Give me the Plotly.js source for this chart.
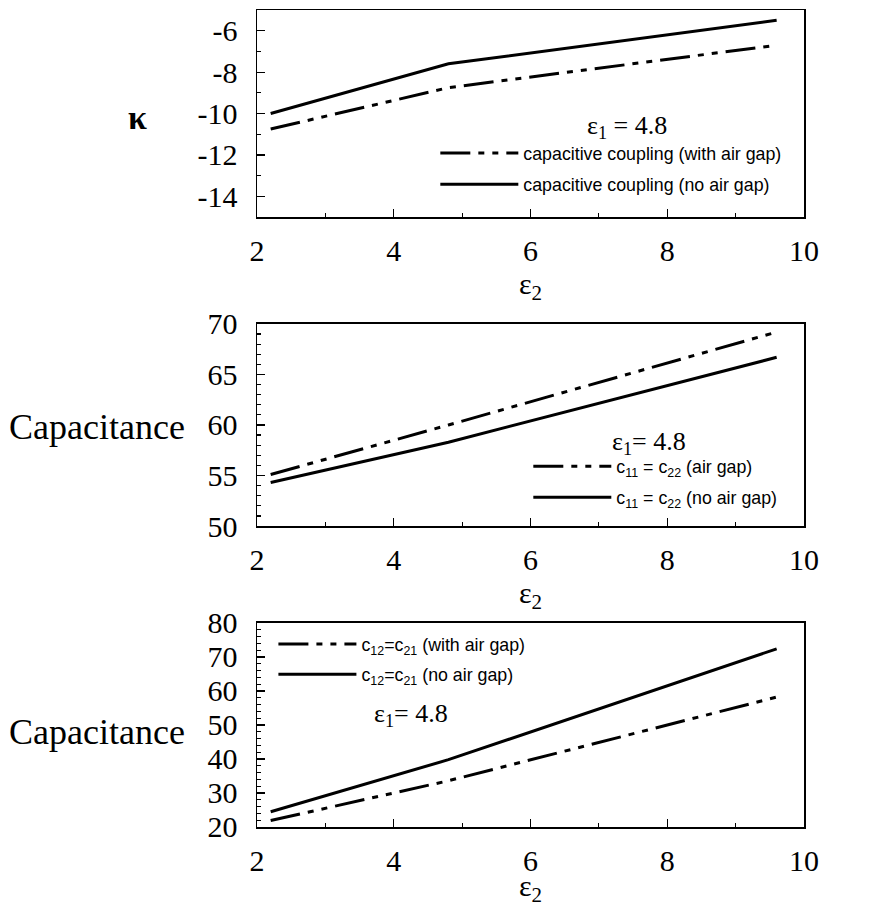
<!DOCTYPE html>
<html>
<head>
<meta charset="utf-8">
<script src="https://cdn.plot.ly/plotly-3.0.1.min.js"></script>
<style>html,body{margin:0;padding:0;background:#fff}#chart{width:896px;height:907px}</style>
</head>
<body>
<div id="chart"></div>
<script>
// ---- data ----
var eps2 = [2.2, 4.8, 9.6];

var kappaAirGap = [-10.75, -8.75, -6.7];
var kappaNoGap  = [-10.0, -7.6, -5.5];

var c11AirGap = [55.1, 60.0, 69.2];
var c11NoGap  = [54.3, 58.3, 66.7];

var c12AirGap = [21.9, 33.6, 58.2];
var c12NoGap  = [24.5, 39.8, 72.4];

var xTickVals = [2, 4, 6, 8, 10];
var yTickVals1 = [-14, -12, -10, -8, -6];
var yTickText1 = ['-14', '-12', '-10', '-8', '-6'];
var yTickVals2 = [50, 55, 60, 65, 70];
var yTickVals3 = [20, 30, 40, 50, 60, 70, 80];

var legendNames1 = ['capacitive coupling (with air gap)', 'capacitive coupling (no air gap)'];
var legendNames2 = ['c<sub>11</sub> = c<sub>22</sub> (air gap)', 'c<sub>11</sub> = c<sub>22</sub> (no air gap)'];
var legendNames3 = ['c<sub>12</sub>=c<sub>21</sub> (with air gap)', 'c<sub>12</sub>=c<sub>21</sub> (no air gap)'];

// ---- styling ----
var serif = 'Liberation Serif';
var sans = 'Liberation Sans';
var dashPat = '30px,8px,6px,8px,6px,8px';
var lw = 3;

function tr(x, y, name, dash, xa, ya, leg, grp) {
  return {
    x: x, y: y, name: name, mode: 'lines', type: 'scatter',
    xaxis: xa, yaxis: ya, legend: leg, legendgroup: grp,
    line: {color: '#000', width: lw, dash: dash},
    hoverinfo: 'skip'
  };
}

var data = [
  tr(eps2, kappaAirGap, legendNames1[0], dashPat, 'x', 'y', 'legend', 'a1'),
  tr(eps2, kappaNoGap, legendNames1[1], 'solid', 'x', 'y', 'legend', 'b1'),
  tr(eps2, c11AirGap, legendNames2[0], dashPat, 'x2', 'y2', 'legend2', 'a2'),
  tr(eps2, c11NoGap, legendNames2[1], 'solid', 'x2', 'y2', 'legend2', 'b2'),
  tr(eps2, c12AirGap, legendNames3[0], dashPat, 'x3', 'y3', 'legend3', 'a3'),
  tr(eps2, c12NoGap, legendNames3[1], 'solid', 'x3', 'y3', 'legend3', 'b3')
];

function xAxis(anchor, standoff) {
  return {
    anchor: anchor, domain: [0, 1], range: [2, 10],
    tickmode: 'array', tickvals: xTickVals,
    ticks: 'inside', ticklen: 8, tickwidth: 1.2, tickcolor: '#000',
    minor: {dtick: 1, tick0: 2, ticks: 'inside', ticklen: 4, tickwidth: 1.2, tickcolor: '#000'},
    showline: true, mirror: true, linecolor: '#000', linewidth: 1.5,
    showgrid: false, zeroline: false,
    tickfont: {family: serif, size: 30, color: '#000'},
    ticklabelstandoff: 6,
    title: {text: 'ε<sub>2</sub>', font: {family: serif, size: 30, color: '#000'}, standoff: standoff}
  };
}
function yAxis(anchor, domain, range, vals, text, minorDt) {
  var a = {
    anchor: anchor, domain: domain, range: range,
    tickmode: 'array', tickvals: vals,
    ticks: 'inside', ticklen: 8, tickwidth: 1.2, tickcolor: '#000',
    minor: {dtick: minorDt, tick0: range[0], ticks: 'inside', ticklen: 4, tickwidth: 1.2, tickcolor: '#000'},
    showline: true, mirror: true, linecolor: '#000', linewidth: 1.5,
    showgrid: false, zeroline: false,
    tickfont: {family: serif, size: 30, color: '#000'},
    ticklabelstandoff: 12
  };
  if (text) a.ticktext = text;
  return a;
}

var legBase = {
  bgcolor: 'rgba(0,0,0,0)', borderwidth: 0, orientation: 'v',
  xanchor: 'left', yanchor: 'top', itemwidth: 78,
  font: {family: sans, size: 17.8, color: '#000'}
};
function leg(x, y, g) { return Object.assign({}, legBase, {x: x, y: y, tracegroupgap: g}); }

var layout = {
  width: 896, height: 907,
  margin: {l: 257, r: 92, t: 10, b: 80},
  paper_bgcolor: '#fff', plot_bgcolor: '#fff',
  showlegend: true,
  xaxis: xAxis('y', 0),
  xaxis2: xAxis('y2', 0),
  xaxis3: xAxis('y3', 0),
  yaxis: yAxis('x', [0.7466, 1], [-15, -5], yTickVals1, yTickText1, 1),
  yaxis2: yAxis('x2', [0.3684, 0.6157], [50, 70], yTickVals2, null, 1),
  yaxis3: yAxis('x3', [0, 0.2497], [20, 80], yTickVals3, null, 2),
  legend: leg(0.3260, 0.8470, 5),
  legend2: leg(0.4960, 0.4637, 5),
  legend3: leg(0.0300, 0.2460, 4),
  annotations: [
    {xref: 'x domain', yref: 'y domain', x: -0.219, y: 0.48, text: '<b>κ</b>', showarrow: false,
     font: {family: serif, size: 34, color: '#000'}, xanchor: 'center', yanchor: 'middle'},
    {xref: 'x2 domain', yref: 'y2 domain', x: -0.128, y: 0.49, text: 'Capacitance', showarrow: false,
     font: {family: serif, size: 36, color: '#000'}, xanchor: 'right', yanchor: 'middle'},
    {xref: 'x3 domain', yref: 'y3 domain', x: -0.128, y: 0.466, text: 'Capacitance', showarrow: false,
     font: {family: serif, size: 36, color: '#000'}, xanchor: 'right', yanchor: 'middle'},
    {xref: 'x domain', yref: 'y domain', x: 0.676, y: 0.435, text: 'ε<sub>1</sub> = 4.8', showarrow: false,
     font: {family: serif, size: 26, color: '#000'}, xanchor: 'center', yanchor: 'middle'},
    {xref: 'x2 domain', yref: 'y2 domain', x: 0.717, y: 0.411, text: 'ε<sub>1</sub>= 4.8', showarrow: false,
     font: {family: serif, size: 26, color: '#000'}, xanchor: 'center', yanchor: 'middle'},
    {xref: 'x3 domain', yref: 'y3 domain', x: 0.282, y: 0.549, text: 'ε<sub>1</sub>= 4.8', showarrow: false,
     font: {family: serif, size: 26, color: '#000'}, xanchor: 'center', yanchor: 'middle'}
  ]
};

Plotly.newPlot('chart', data, layout, {staticPlot: true, displayModeBar: false});
</script>
</body>
</html>
